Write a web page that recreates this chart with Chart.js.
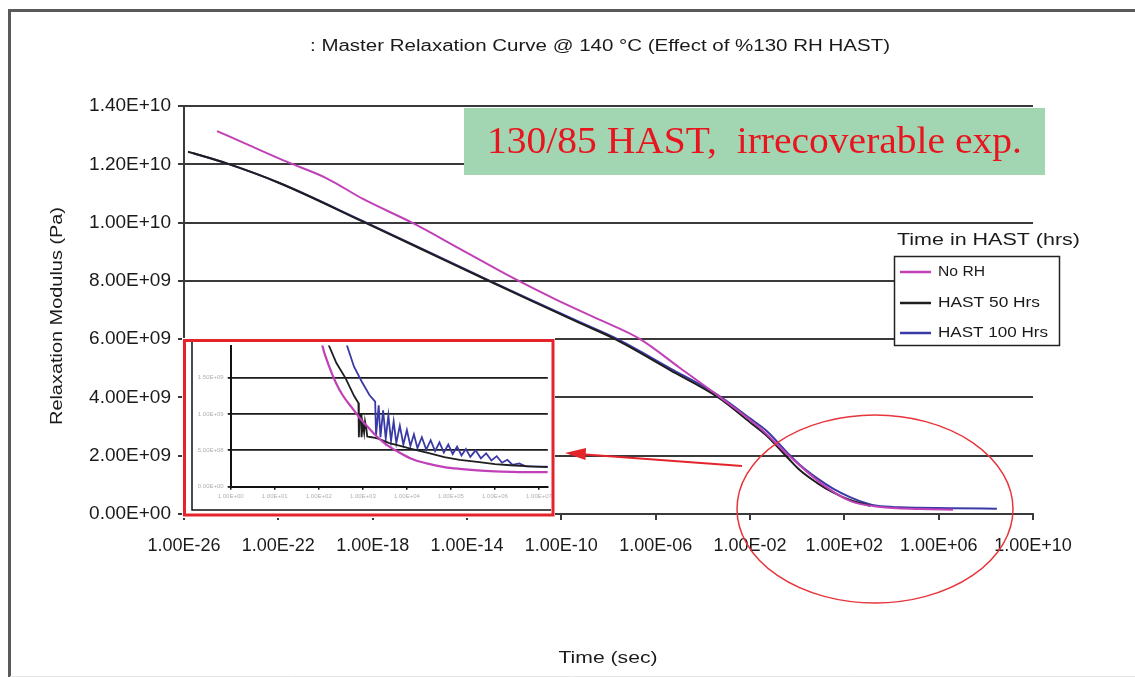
<!DOCTYPE html>
<html><head><meta charset="utf-8">
<script src="https://cdn.jsdelivr.net/npm/chart.js@4"></script>
<style>
html,body{margin:0;padding:0;background:#fff;}
#wrap{position:relative;width:1135px;height:677px;overflow:hidden;}
canvas{position:absolute;}
#main{left:0;top:0;}
#inset{left:182px;top:338px;}
</style></head>
<body><div id="wrap">
<canvas id="main" width="1135" height="677" style="width:1135px;height:677px"></canvas>
<canvas id="inset" width="373" height="180" style="width:373px;height:180px"></canvas>
</div>
<script>
// ---------- data (time as log10 seconds, modulus in 1e9 Pa) ----------
const seriesLabels = ['No RH', 'HAST 50 Hrs', 'HAST 100 Hrs'];
const xTickExps = [-26, -22, -18, -14, -10, -6, -2, 2, 6, 10];
const yTickValues = [0, 2e9, 4e9, 6e9, 8e9, 1e10, 1.2e10, 1.4e10];

const noRhLogT = [-24.6, -23.2, -21.65, -19.95, -18.41, -16.29, -14.30, -12.05, -10.18, -8.36, -6.66, -4.97, -3.27, -1.58, -0.30, 1.0, 2.24, 3.51, 5.21, 6.61];
const noRhG    = [13.14, 12.64, 12.09, 11.52, 10.81, 9.98, 9.10, 8.10, 7.34, 6.66, 6.00, 5.01, 4.01, 2.95, 1.96, 1.06, 0.45, 0.24, 0.17, 0.15];

const hast50LogT = [-25.83, -24.19, -21.93, -18.41, -15.99, -13.45, -11.33, -9.21, -7.72, -5.39, -3.36, -2.0, -1.28, -0.39, 0.12, 0.84, 1.52, 2.24, 2.96, 3.1];
const hast50G    = [12.43, 12.03, 11.35, 10.03, 9.11, 8.14, 7.34, 6.55, 6.00, 4.94, 4.01, 3.15, 2.68, 1.92, 1.50, 1.07, 0.74, 0.48, 0.31, 0.28];

const hast100LogT = [-25.6, -24.19, -21.93, -18.41, -15.99, -13.45, -11.33, -9.21, -7.72, -5.39, -3.36, -2.0, -1.28, -0.39, 0.12, 0.84, 1.52, 2.24, 2.96, 3.39, 4.36, 6.61, 8.47];
const hast100G    = [12.38, 12.03, 11.35, 10.05, 9.13, 8.16, 7.36, 6.58, 6.04, 5.00, 4.08, 3.28, 2.84, 2.08, 1.68, 1.23, 0.87, 0.58, 0.36, 0.28, 0.23, 0.20, 0.18];

// inset (zoom of the tail), modulus in 1e8 Pa
const insetXTickExps = [0, 1, 2, 3, 4, 5, 6, 7];
const insetYTickValues = [0, 5e8, 1e9, 1.5e9];
const insetNoRhLogT = [1.98, 2.08, 2.22, 2.38, 2.55, 2.76, 2.95, 3.13, 3.30, 3.51, 3.80, 4.10, 4.45, 4.85, 5.20, 5.60, 6.00, 6.35, 6.80, 7.20];
const insetNoRhG    = [23.0, 19.4, 16.8, 14.4, 12.5, 10.8, 9.3, 8.1, 7.0, 5.9, 4.8, 3.85, 3.2, 2.7, 2.45, 2.25, 2.12, 2.05, 2.0, 2.0];
const insetHast50LogT = [2.15, 2.23, 2.40, 2.61, 2.80, 2.90, 2.91, 2.93, 2.96, 2.97, 3.00, 3.03, 3.05, 3.08, 3.10, 3.20, 3.35, 3.60, 3.85, 4.10, 4.50, 4.85, 5.20, 5.60, 6.00, 6.35, 6.80, 7.20];
const insetHast50G    = [22.0, 19.4, 17.0, 14.9, 12.5, 11.5, 6.8, 10.0, 10.0, 6.8, 8.6, 7.4, 9.0, 8.0, 6.9, 6.8, 6.6, 6.0, 5.6, 5.2, 4.6, 4.05, 3.7, 3.4, 3.1, 2.95, 2.8, 2.7];
const insetHast100LogT = [2.50, 2.64, 2.80, 2.98, 3.15, 3.28, 3.30, 3.36, 3.40, 3.46, 3.52, 3.58, 3.64, 3.70, 3.76, 3.84, 3.92, 4.00, 4.08, 4.16, 4.24, 4.34, 4.44, 4.54, 4.64, 4.74, 4.84, 4.94, 5.04, 5.14, 5.24, 5.34, 5.44, 5.56, 5.68, 5.80, 5.92, 6.04, 6.16, 6.28, 6.40, 6.55, 6.70, 7.20];
const insetHast100G    = [24.0, 19.4, 16.5, 14.4, 12.6, 11.7, 7.0, 11.2, 6.8, 10.5, 6.6, 9.8, 6.3, 9.0, 6.0, 8.4, 5.8, 7.8, 5.6, 7.2, 5.3, 6.8, 5.1, 6.4, 4.9, 6.1, 4.7, 5.8, 4.5, 5.5, 4.3, 5.2, 4.1, 5.0, 3.9, 4.6, 3.6, 4.2, 3.3, 3.7, 3.0, 3.2, 2.8, 2.75];

// ---------- styles ----------
const COL = { noRh: '#c040b8', hast50: '#1e1e1e', hast100: '#3a3aa6', grid: '#3a3a3a', red: '#e3242b' };
const FONT = 'Liberation Sans, Arial, sans-serif';

const toPts = (ts, gs, k) => ts.map((e, i) => ({ x: Math.pow(10, e), y: gs[i] * k }));
const fmtE = v => {
  if (v === 0) return '0.00E+00';
  let e = Math.floor(Math.log10(v) + 1e-9);
  let m = v / Math.pow(10, e);
  if (m >= 9.995) { m /= 10; e++; }
  return m.toFixed(2) + 'E' + (e < 0 ? '-' : '+') + String(Math.abs(e)).padStart(2, '0');
};

function fitText(ctx, text, x, y, w, size, color, align) {
  ctx.save();
  ctx.font = size + 'px ' + FONT;
  const m = ctx.measureText(text).width;
  ctx.translate(x, y);
  ctx.scale(w / m, 1);
  ctx.textAlign = align || 'left';
  ctx.textBaseline = 'middle';
  ctx.fillStyle = color;
  ctx.fillText(text, 0, 0);
  ctx.restore();
}

const annot = {
  id: 'annot',
  beforeDraw(chart) {
    const c = chart.ctx;
    c.save(); c.fillStyle = '#fff'; c.fillRect(0, 0, chart.width, chart.height); c.restore();
  },
  afterDraw(chart) {
    const c = chart.ctx;
    c.save();
    // outer frame
    c.strokeStyle = '#5a5a5a'; c.lineWidth = 3;
    c.beginPath(); c.moveTo(9.5, 677); c.lineTo(9.5, 10.5); c.lineTo(1135, 10.5); c.stroke();
    c.strokeStyle = '#e6e6e6'; c.lineWidth = 1;
    c.beginPath(); c.moveTo(10, 676.5); c.lineTo(1135, 676.5); c.stroke();
    // titles
    fitText(c, ': Master Relaxation Curve @ 140 °C (Effect of %130 RH HAST)', 600, 47, 580, 16, '#1a1a1a', 'center');
    fitText(c, 'Time (sec)', 608, 659, 99, 16, '#1a1a1a', 'center');
    c.save(); c.translate(58, 316); c.rotate(-Math.PI / 2);
    fitText(c, 'Relaxation Modulus (Pa)', 0, 0, 218, 16, '#1a1a1a', 'center');
    c.restore();
    // green annotation box
    c.fillStyle = '#a2d5b2';
    c.fillRect(464, 108, 581, 67);
    c.save();
    c.font = '38px Liberation Serif, Times New Roman, serif';
    const t = '130/85 HAST,  irrecoverable exp.';
    const tw = c.measureText(t).width;
    c.translate(487, 143); c.scale(535 / tw, 1);
    c.textBaseline = 'middle'; c.fillStyle = '#e8141e'; c.fillText(t, 0, 0);
    c.restore();
    // legend
    c.fillStyle = '#fff'; c.fillRect(894, 256, 166, 90);
    c.strokeStyle = '#222'; c.lineWidth = 1.5; c.strokeRect(894.5, 256.5, 165, 89);
    fitText(c, 'Time in HAST (hrs)', 897, 241, 183, 16, '#1a1a1a', 'left');
    const ly = [272, 303, 333];
    const lw = [47, 102, 110];
    chart.data.datasets.forEach((ds, i) => {
      c.strokeStyle = ds.borderColor; c.lineWidth = 2.5;
      c.beginPath(); c.moveTo(900, ly[i]); c.lineTo(931, ly[i]); c.stroke();
      fitText(c, ds.label, 938, ly[i], lw[i], 14, '#1a1a1a', 'left');
    });
    // arrow
    c.strokeStyle = COL.red; c.fillStyle = COL.red; c.lineWidth = 2;
    c.beginPath(); c.moveTo(742, 466); c.lineTo(582, 454.2); c.stroke();
    c.beginPath(); c.moveTo(565, 453); c.lineTo(586, 448); c.lineTo(585.5, 460); c.closePath(); c.fill();
    // ellipse
    c.lineWidth = 1.5; c.strokeStyle = '#e8343c';
    c.beginPath(); c.ellipse(875, 509, 138, 94, 0, 0, Math.PI * 2); c.stroke();
    c.restore();
  }
};

const mainLine = { borderWidth: 2, pointRadius: 0, fill: false, cubicInterpolationMode: 'monotone' };

new Chart(document.getElementById('main'), {
  type: 'line',
  data: {
    datasets: [
      Object.assign({ label: seriesLabels[0], data: toPts(noRhLogT, noRhG, 1e9), borderColor: COL.noRh }, mainLine),
      Object.assign({ label: seriesLabels[1], data: toPts(hast50LogT, hast50G, 1e9), borderColor: COL.hast50 }, mainLine),
      Object.assign({ label: seriesLabels[2], data: toPts(hast100LogT, hast100G, 1e9), borderColor: COL.hast100 }, mainLine)
    ]
  },
  options: {
    responsive: false, animation: false, devicePixelRatio: 1,
    layout: { padding: { left: 0, top: 106, right: 102, bottom: 0 } },
    plugins: { legend: { display: false }, tooltip: { enabled: false }, title: { display: false } },
    scales: {
      x: {
        type: 'logarithmic', min: 1e-26, max: 1e10,
        afterBuildTicks: s => { s.ticks = xTickExps.map(e => ({ value: Math.pow(10, e) })); },
        afterFit: s => { s.height = 163; },
        ticks: { callback: v => fmtE(v), autoSkip: false, maxRotation: 0, minRotation: 0, padding: 15, color: '#1a1a1a', font: { family: FONT, size: 18 } },
        grid: { drawOnChartArea: false, drawTicks: true, tickLength: 6, color: COL.grid, lineWidth: 2 },
        border: { display: true, color: COL.grid, width: 2 }
      },
      y: {
        type: 'linear', min: 0, max: 1.4e10,
        afterBuildTicks: s => { s.ticks = yTickValues.map(v => ({ value: v })); },
        afterFit: s => { s.width = 184; },
        ticks: { callback: v => fmtE(v), padding: 7, color: '#1a1a1a', font: { family: FONT, size: 19 } },
        grid: { drawOnChartArea: true, drawTicks: true, tickLength: 6, color: COL.grid, lineWidth: 2 },
        border: { display: true, color: COL.grid, width: 2 }
      }
    }
  },
  plugins: [annot]
});

// ---------- inset chart ----------
const insetFrame = {
  id: 'insetFrame',
  beforeDraw(chart) {
    const c = chart.ctx;
    c.save(); c.fillStyle = '#fff'; c.fillRect(0, 0, chart.width, chart.height); c.restore();
  },
  afterDraw(chart) {
    const c = chart.ctx;
    c.save();
    c.strokeStyle = '#111'; c.lineWidth = 1.5;
    c.beginPath(); c.moveTo(10, 3); c.lineTo(10, 172); c.lineTo(369, 172); c.stroke();
    c.strokeStyle = COL.red; c.lineWidth = 3;
    c.strokeRect(2.5, 2.5, 368.5, 174.5);
    c.restore();
  }
};

new Chart(document.getElementById('inset'), {
  type: 'line',
  data: {
    datasets: [
      { label: seriesLabels[0], data: toPts(insetNoRhLogT, insetNoRhG, 1e8), borderColor: COL.noRh, borderWidth: 2.2, pointRadius: 0, fill: false, cubicInterpolationMode: 'monotone' },
      { label: seriesLabels[1], data: toPts(insetHast50LogT, insetHast50G, 1e8), borderColor: COL.hast50, borderWidth: 1.8, pointRadius: 0, fill: false },
      { label: seriesLabels[2], data: toPts(insetHast100LogT, insetHast100G, 1e8), borderColor: COL.hast100, borderWidth: 1.8, pointRadius: 0, fill: false }
    ]
  },
  options: {
    responsive: false, animation: false, devicePixelRatio: 1,
    layout: { padding: { left: 0, top: 5, right: 2, bottom: 0 } },
    plugins: { legend: { display: false }, tooltip: { enabled: false } },
    scales: {
      x: {
        type: 'logarithmic', min: 1, max: Math.pow(10, 7.2),
        afterBuildTicks: s => { s.ticks = insetXTickExps.map(e => ({ value: Math.pow(10, e) })); },
        afterFit: s => { s.height = 31.3; },
        ticks: { callback: v => fmtE(v), autoSkip: false, maxRotation: 0, padding: 3, color: '#b0b0b0', font: { family: FONT, size: 6 } },
        grid: { drawOnChartArea: false, drawTicks: true, tickLength: 3, color: '#111', lineWidth: 1.5 },
        border: { display: true, color: '#111', width: 2 }
      },
      y: {
        type: 'linear', min: 0, max: 1.94e9,
        afterBuildTicks: s => { s.ticks = insetYTickValues.map(v => ({ value: v })); },
        afterFit: s => { s.width = 48.7; },
        ticks: { callback: v => fmtE(v), padding: 4, color: '#b0b0b0', font: { family: FONT, size: 6 } },
        grid: { drawOnChartArea: true, drawTicks: true, tickLength: 3, color: '#1a1a1a', lineWidth: 1.8 },
        border: { display: true, color: '#111', width: 2 }
      }
    }
  },
  plugins: [insetFrame]
});
</script>
</body></html>
